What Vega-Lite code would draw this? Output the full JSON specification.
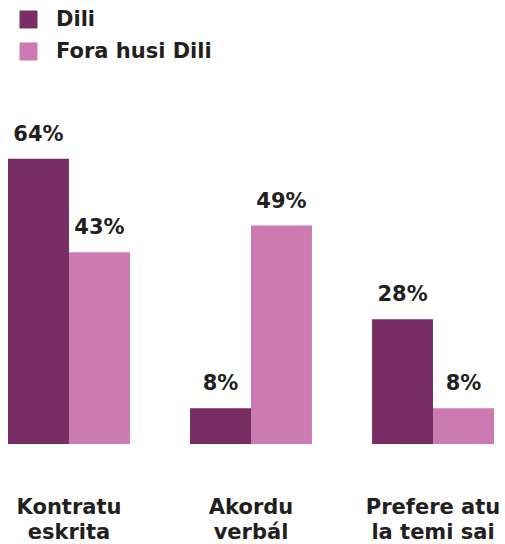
{
  "$schema": "https://vega.github.io/schema/vega-lite/v6.json",
  "width": 486,
  "height": 312,
  "autosize": {"type": "none"},
  "padding": {"left": 8, "right": 11, "top": 132, "bottom": 100},
  "background": "white",
  "config": {
    "view": {"stroke": null},
    "font": "DejaVu Sans"
  },
  "data": {
    "values": [
      {"cat": "Kontratu|eskrita", "series": "Dili", "value": 64},
      {"cat": "Kontratu|eskrita", "series": "Fora husi Dili", "value": 43},
      {"cat": "Akordu|verbál", "series": "Dili", "value": 8},
      {"cat": "Akordu|verbál", "series": "Fora husi Dili", "value": 49},
      {"cat": "Prefere atu|la temi sai", "series": "Dili", "value": 28},
      {"cat": "Prefere atu|la temi sai", "series": "Fora husi Dili", "value": 8}
    ]
  },
  "encoding": {
    "x": {
      "field": "cat",
      "type": "nominal",
      "sort": null,
      "scale": {"paddingInner": 0.33, "paddingOuter": 0},
      "axis": {
        "title": null,
        "domain": false,
        "ticks": false,
        "labelAngle": 0,
        "labelExpr": "split(datum.label, '|')",
        "labelFont": "DejaVu Sans",
        "labelFontSize": 21,
        "labelFontWeight": "bold",
        "labelColor": "#231f20",
        "labelBaseline": "alphabetic",
        "labelPadding": 69,
        "labelLineHeight": 25
      }
    },
    "xOffset": {"field": "series", "type": "nominal", "sort": ["Dili", "Fora husi Dili"], "scale": {"paddingInner": 0, "paddingOuter": 0}},
    "y": {
      "field": "value",
      "type": "quantitative",
      "scale": {"domain": [0, 70]},
      "axis": null
    }
  },
  "layer": [
    {
      "mark": {"type": "bar"},
      "encoding": {
        "color": {
          "field": "series",
          "type": "nominal",
          "sort": ["Dili", "Fora husi Dili"],
          "scale": {"domain": ["Dili", "Fora husi Dili"], "range": ["#782D64", "#CC7BB2"]},
          "legend": {
            "title": null,
            "orient": "none",
            "legendX": 10,
            "legendY": -123,
            "symbolType": "square",
            "symbolSize": 324,
            "symbolStrokeWidth": 0,
            "symbolOpacity": 1,
            "labelFont": "DejaVu Sans",
            "labelFontSize": 21,
            "labelFontWeight": "bold",
            "labelColor": "#231f20",
            "labelOffset": 17,
            "rowPadding": 10
          }
        }
      }
    },
    {
      "transform": [{"calculate": "datum.value + '%'", "as": "label"}],
      "mark": {
        "type": "text",
        "dy": -18,
        "baseline": "alphabetic",
        "font": "DejaVu Sans",
        "fontSize": 21,
        "fontWeight": "bold",
        "color": "#231f20"
      },
      "encoding": {
        "text": {"field": "label", "type": "nominal"}
      }
    }
  ]
}
